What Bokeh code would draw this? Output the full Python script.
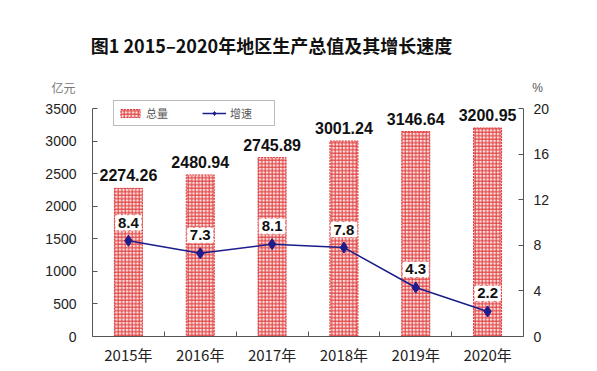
from bokeh.plotting import figure
from bokeh.models import (Range1d, LinearAxis, FixedTicker, ColumnDataSource,
                          LabelSet, Label, Legend, LegendItem)
from bokeh.core.properties import value
from bokeh.embed import file_html
from bokeh.resources import INLINE

# ---- data ----
years = ["2015", "2016", "2017", "2018", "2019", "2020"]
gdp = [2274.26, 2480.94, 2745.89, 3001.24, 3146.64, 3200.95]
growth = [8.4, 7.3, 8.1, 7.8, 4.3, 2.2]
left_ticks = [0, 500, 1000, 1500, 2000, 2500, 3000, 3500]
right_ticks = [0, 4, 8, 12, 16, 20]
title_text = "图1  2015–2020年地区生产总值及其增长速度"
left_unit = "亿元"
right_unit = "%"
legend_labels = ["总量", "增速"]

LATIN = "Liberation Sans"
CJK = "Noto Sans CJK SC"
AXIS_COLOR = "#555555"
LINE_COLOR = "#1c1c8c"
BAR_RED = "#e03a3a"

# ---- layout (pixels) ----
W, H = 597, 371
PLOT_L, PLOT_R, PLOT_T, PLOT_B = 92, 523, 108, 336

n = len(years)
ppx = (PLOT_R - PLOT_L) / n                       # px per category
ppy = (PLOT_B - PLOT_T) / left_ticks[-1]          # px per left unit
ppp = (PLOT_B - PLOT_T) / right_ticks[-1]         # px per right unit

xr = Range1d(-PLOT_L / ppx, n + (W - PLOT_R) / ppx)
yr = Range1d(-(H - PLOT_B) / ppy, PLOT_B / ppy)
pr = Range1d(-(H - PLOT_B) / ppp, PLOT_B / ppp)

def dx(px):
    return (px - PLOT_L) / ppx

def dy(py):
    return (PLOT_B - py) / ppy

xpos = [i + 0.5 for i in range(n)]
src = ColumnDataSource(dict(
    x=xpos, gdp=gdp, growth=growth,
    gdp_lbl=[f"{v:.2f}" for v in gdp],
    gr_lbl=[f"{v:.1f}" for v in growth],
))

p = figure(width=W, height=H, x_range=xr, y_range=yr,
           output_backend="svg", toolbar_location=None,
           x_axis_location=None, y_axis_location=None,
           min_border=0)
p.extra_y_ranges = {"pct": pr}
p.xgrid.visible = False
p.ygrid.visible = False
p.outline_line_color = None
p.background_fill_color = "white"
p.border_fill_color = "white"

def style_axis(ax, standoff, font, size):
    ax.axis_line_color = AXIS_COLOR
    ax.major_tick_line_color = AXIS_COLOR
    ax.minor_tick_line_color = None
    ax.major_tick_in = 5
    ax.major_tick_out = 0
    ax.major_label_standoff = standoff
    ax.major_label_text_font = font
    ax.major_label_text_font_size = size
    ax.major_label_text_color = "#222222"

# left axis
ya = LinearAxis(ticker=FixedTicker(ticks=left_ticks), fixed_location=0,
                bounds=(left_ticks[0], left_ticks[-1]))
style_axis(ya, 16, LATIN, "14px")
p.add_layout(ya, "left")

# right axis
ra = LinearAxis(y_range_name="pct", ticker=FixedTicker(ticks=right_ticks),
                fixed_location=n, bounds=(right_ticks[0], right_ticks[-1]))
style_axis(ra, 10, LATIN, "14px")
p.add_layout(ra, "right")

# bottom axis
xa = LinearAxis(ticker=FixedTicker(ticks=xpos, minor_ticks=list(range(1, n))),
                fixed_location=0, bounds=(0, n))
style_axis(xa, 7, CJK, "15px")
xa.major_label_overrides = {x: f"{y}年" for x, y in zip(xpos, years)}
xa.major_tick_in = 0
xa.minor_tick_in = 5
xa.minor_tick_out = 0
xa.minor_tick_line_color = AXIS_COLOR
p.add_layout(xa, "below")

# bars
bars = p.vbar(x="x", top="gdp", bottom=0, width=0.39, source=src,
              fill_color="#fbe0e0", hatch_pattern="cross", hatch_color=BAR_RED,
              hatch_scale=3.5, hatch_weight=1,
              line_color=BAR_RED, line_dash="2 1", line_width=1)

# growth line
ln = p.line(x="x", y="growth", source=src, y_range_name="pct",
            line_color=LINE_COLOR, line_width=1.5)
mk = p.scatter(x="x", y="growth", source=src, y_range_name="pct",
               marker="diamond", size=11, fill_color=LINE_COLOR,
               line_color=LINE_COLOR)

# labels
p.add_layout(LabelSet(x="x", y="gdp", text="gdp_lbl", source=src,
                      text_align="center", text_baseline="middle", y_offset=13,
                      text_font=value(LATIN), text_font_style="bold",
                      text_font_size="16px", text_color="#111111"))
p.text(x="x", y="growth", text="gr_lbl", source=src, y_range_name="pct",
       text_align="center", text_baseline="middle", y_offset=-18,
       text_font=value(LATIN), text_font_style="bold",
       text_font_size="15px", text_color="#111111",
       background_fill_color="white",
       border_line_color="#e07070", border_line_dash="dotted",
       border_line_width=1, padding=3)

# title and units
p.add_layout(Label(x=dx(273), y=dy(44), text=title_text, text_align="center",
                   text_baseline="middle", text_font=CJK, text_font_style="bold",
                   text_font_size="18px", text_color="#111111"))
p.add_layout(Label(x=dx(63), y=dy(87), text=left_unit, text_align="center",
                   text_baseline="middle", text_font=CJK,
                   text_font_size="12px", text_color="#777777"))
p.add_layout(Label(x=dx(537), y=dy(87), text=right_unit, text_align="center",
                   text_baseline="middle", text_font=LATIN,
                   text_font_size="12px", text_color="#555555"))

# legend
legend = Legend(items=[LegendItem(label=legend_labels[0], renderers=[bars]),
                       LegendItem(label=legend_labels[1], renderers=[ln, mk])],
                orientation="horizontal", location=(113, H - 126),
                border_line_color="#777777", border_line_width=1,
                background_fill_color="white",
                label_text_font=CJK, label_text_font_size="11px",
                label_text_color="#555555",
                glyph_width=24, glyph_height=10, label_standoff=4,
                label_width=40, spacing=16, padding=4, margin=0)
p.add_layout(legend)

open("out.html", "w").write(file_html(p, INLINE))
